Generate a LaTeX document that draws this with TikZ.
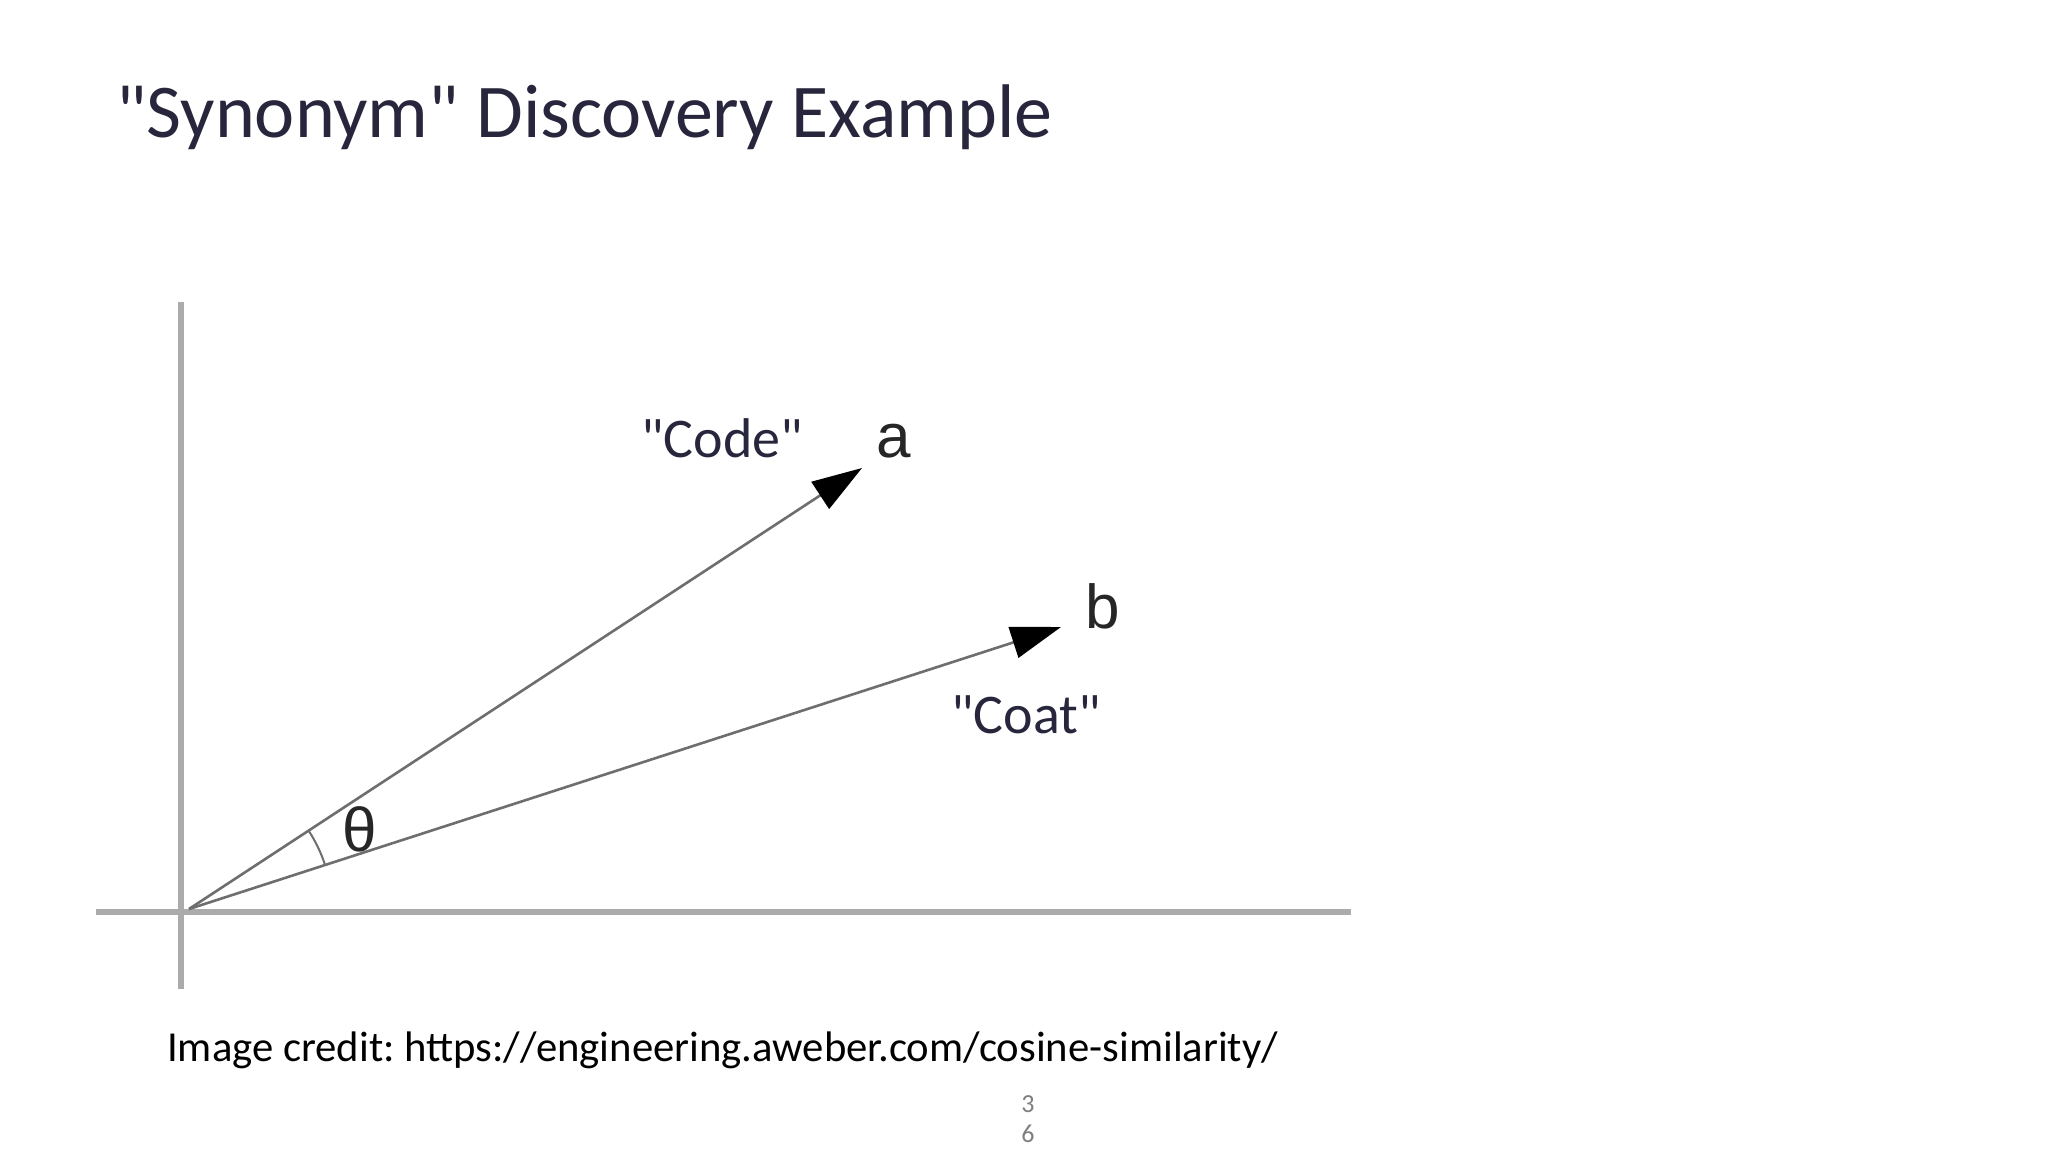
\documentclass[tikz,border=0pt]{standalone}
\usepackage{fontspec}
\setmainfont{Carlito}[Ligatures=TeXOff]
\newfontfamily\arialf{Liberation Sans}
\usetikzlibrary{arrows.meta,calc}
\frenchspacing
\definecolor{titlecol}{HTML}{27263D}
\definecolor{axiscol}{HTML}{ABABAB}
\definecolor{veccol}{HTML}{6E6E6E}
\definecolor{pgcol}{HTML}{7F7F7F}
\tikzset{
  axis/.style={draw=axiscol, line width=5.5pt},
  vec/.style={draw=veccol, line width=2.6pt, -{Triangle[length=50pt,width=32pt,fill=black,color=black]}},
  slidetext/.style={inner sep=0pt, text=titlecol},
  letter/.style={inner sep=0pt, text=black!85, font=\arialf\fontsize{62}{70}\selectfont},
}
\begin{document}
\begin{tikzpicture}[x=1pt,y=-1pt]
\useasboundingbox[fill=white] (0,0) rectangle (2048,1152);
% title
\node[slidetext, anchor=base west, font=\fontsize{76}{90}\selectfont] (title) at (116,137) {"Synonym" Discovery Example};
% axes
\coordinate (ytop) at (181,302);
\coordinate (ybot) at (181,989);
\coordinate (xl) at (96,912);
\coordinate (xr) at (1351,912);
\draw[axis] (ytop) -- (ybot);
\draw[axis] (xl) -- (xr);
% vectors
\coordinate (O) at (189,909);
\coordinate (A) at (862,468);
\coordinate (B) at (1061,627);
\draw[vec] (O) -- (A);
\draw[vec] (O) -- (B);
% angle
\coordinate (arcstart) at ($(O)+(-33.1:143)$);
\draw[veccol, line width=2pt] (arcstart) arc[start angle=-33.1, end angle=-17.8, radius=143];
\node[letter, anchor=center] (theta) at (360,829) {θ};
% letters
\node[letter, anchor=base] (la) at (894,457) {a};
\node[letter, anchor=base] (lb) at (1103,628) {b};
% word labels
\node[slidetext, anchor=base west, font=\fontsize{56}{66}\selectfont] (code) at (641,457) {"Code"};
\node[slidetext, anchor=base west, font=\fontsize{56}{66}\selectfont] (coat) at (951,733) {"Coat"};
% credit
\node[inner sep=0pt, anchor=base west, text=black, font=\fontsize{42.7}{52}\selectfont] (credit) at (167,1061) {Image credit: https://engineering.aweber.com/cosine-similarity/};
% page number
\node[inner sep=0pt, anchor=base, text=pgcol, font=\fontsize{26}{30}\selectfont] (pg3) at (1028,1112) {3};
\node[inner sep=0pt, anchor=base, text=pgcol, font=\fontsize{26}{30}\selectfont] (pg6) at (1028,1142) {6};
\end{tikzpicture}
\end{document}
